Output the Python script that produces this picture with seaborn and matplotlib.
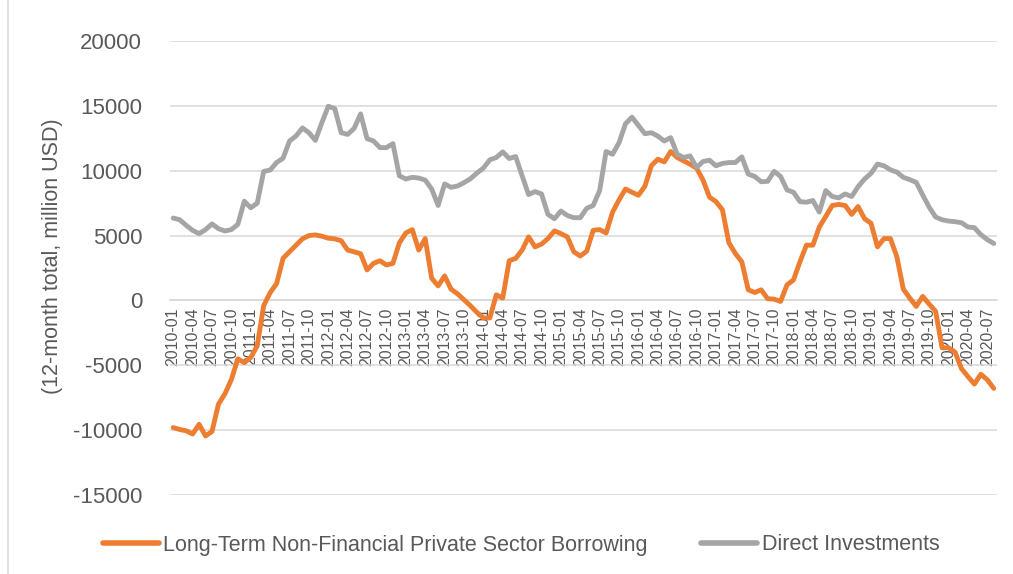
import numpy as np
import pandas as pd
import matplotlib
matplotlib.use("Agg")
import matplotlib.pyplot as plt
from matplotlib.lines import Line2D
import seaborn as sns

months = pd.period_range("2010-01", "2020-08", freq="M").strftime("%Y-%m").tolist()

borrowing = [
    -9800, -9950, -10050, -10300, -9550, -10450, -10100, -8000, -7200, -6100,
    -4500, -4800, -4400, -3500, -400, 600, 1300, 3250, 3750, 4250,
    4750, 5000, 5050, 4950, 4800, 4750, 4600, 3880, 3750, 3600,
    2350, 2860, 3060, 2730, 2860, 4440, 5200, 5460, 3880, 4770,
    1710, 1120, 1890, 870, 510, 50, -410, -920, -1350, -1350,
    430, 180, 3060, 3240, 3880, 4900, 4130, 4340, 4770, 5360,
    5150, 4900, 3750, 3420, 3800, 5410, 5460, 5200, 6810, 7750,
    8590, 8340, 8110, 8800, 10380, 10890, 10680, 11480, 11020, 10760,
    10500, 10200, 9280, 7960, 7620, 6990, 4450, 3620, 2980, 820,
    610, 820, 130, 100, -80, 1200, 1580, 2980, 4260, 4260,
    5660, 6480, 7320, 7400, 7320, 6630, 7240, 6300, 5950, 4130,
    4770, 4770, 3370, 870, 180, -460, 310, -280, -840, -3650,
    -3650, -3980, -5250, -5870, -6450, -5690, -6120, -6780,
]

direct_inv = [
    6350, 6220, 5790, 5400, 5150, 5460, 5900, 5530, 5355, 5460,
    5865, 7650, 7140, 7500, 9945, 10050, 10630, 10965, 12290, 12670,
    13300, 12930, 12340, 13700, 14970, 14790, 12930, 12800, 13260, 14380,
    12470, 12290, 11780, 11780, 12090, 9610, 9360, 9490, 9435, 9280,
    8590, 7320, 8980, 8720, 8820, 9080, 9380, 9820, 10200, 10840,
    11020, 11450, 10940, 11090, 9610, 8160, 8390, 8210, 6630, 6300,
    6890, 6550, 6380, 6380, 7100, 7320, 8470, 11480, 11270, 12160,
    13620, 14130, 13490, 12850, 12930, 12670, 12290, 12550, 11270, 11020,
    11140, 10250, 10710, 10810, 10380, 10560, 10630, 10630, 11070, 9740,
    9560, 9150, 9180, 9950, 9560, 8520, 8340, 7620, 7570, 7700,
    6810, 8470, 8010, 7910, 8210, 8010, 8770, 9360, 9800, 10510,
    10380, 10070, 9890, 9490, 9310, 9100, 8130, 7190, 6430, 6220,
    6120, 6070, 5990, 5660, 5610, 5070, 4690, 4390,
]

series_names = ["Long-Term Non-Financial Private Sector Borrowing", "Direct Investments"]
colors = ["#ED7D31", "#A5A5A5"]
y_ticks = [-15000, -10000, -5000, 0, 5000, 10000, 15000, 20000]
y_label = "(12-month total, million USD)"

df = pd.DataFrame({"month": months, "idx": np.arange(len(months)),
                   series_names[0]: borrowing, series_names[1]: direct_inv})
long = df.melt(id_vars=["month", "idx"], var_name="series", value_name="value")

sns.set_theme(style="white")
plt.rcParams["font.family"] = ["Liberation Sans", "DejaVu Sans"]
txt = "#595959"

fig = plt.figure(figsize=(10.13, 5.74), dpi=100)
ax = fig.add_axes([170 / 1013, 1 - 495 / 574, 827 / 1013, 454 / 574])

sns.lineplot(data=long, x="idx", y="value", hue="series", hue_order=series_names,
             palette=colors, linewidth=3.5, ax=ax, legend=False, sort=False)

# axis line at zero (set before tick labels, since set_position resets ticks)
for s in ["top", "right", "left"]:
    ax.spines[s].set_visible(False)
ax.spines["bottom"].set_position(("data", 0))
ax.spines["bottom"].set_color("#D9D9D9")
ax.spines["bottom"].set_linewidth(1.1)
ax.spines["bottom"].set_zorder(0)

ax.set_xlim(-0.5, len(months) - 0.5)
ax.set_ylim(-15000, 20000)
ax.set_yticks(y_ticks)
ax.set_yticklabels([str(v) for v in y_ticks], fontsize=16, color=txt)
ax.tick_params(axis="y", length=0, pad=20)
ax.yaxis.grid(True, color="#D9D9D9", linewidth=1.1)
ax.set_axisbelow(True)

tick_pos = list(range(0, len(months), 3))
ax.set_xticks(tick_pos)
ax.set_xticklabels([months[i] for i in tick_pos], rotation=90, fontsize=11.5,
                   color=txt, va="top", ha="center")
ax.tick_params(axis="x", length=0, pad=5)

ax.set_xlabel("")
ax.set_ylabel(y_label, fontsize=15.5, color=txt)
ax.yaxis.set_label_coords(-0.129, 0.525)

handles = [Line2D([0], [0], color=c, lw=4) for c in colors]
fig.legend(handles, series_names, loc="center", bbox_to_anchor=(521 / 1013, 1 - 545 / 574),
           ncol=2, frameon=False, fontsize=15.5, labelcolor=txt, handlelength=2.6,
           handletextpad=0.2, columnspacing=2.5)

fig.add_artist(Line2D([8 / 1013, 8 / 1013], [0, 1], color="#D9D9D9", lw=1.2))

fig.savefig("out.png", dpi=100)
